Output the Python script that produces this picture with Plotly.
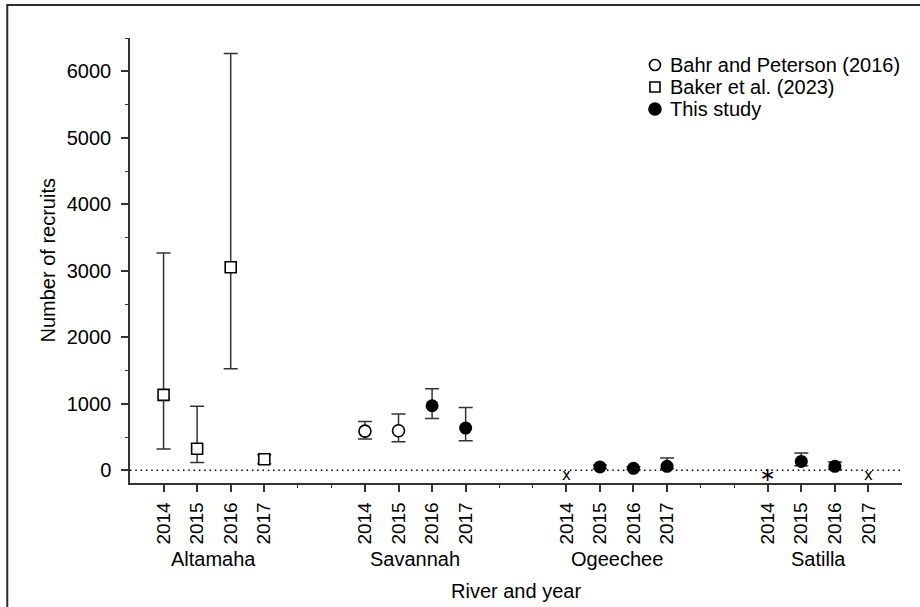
import plotly.graph_objects as go

rivers = ["Altamaha", "Savannah", "Ogeechee", "Satilla"]
years = ["2014", "2015", "2016", "2017"]

# Bahr and Peterson (2016)
bahr_river = ["Savannah", "Savannah"]
bahr_year = ["2014", "2015"]
bahr_val = [590, 595]
bahr_lo = [470, 431]
bahr_hi = [736, 847]

# Baker et al. (2023)
baker_river = ["Altamaha", "Altamaha", "Altamaha", "Altamaha"]
baker_year = ["2014", "2015", "2016", "2017"]
baker_val = [1135, 326, 3054, 168]
baker_lo = [321, 120, 1527, 100]
baker_hi = [3268, 965, 6267, 236]

# This study
this_river = ["Savannah", "Savannah", "Ogeechee", "Ogeechee", "Ogeechee", "Satilla", "Satilla"]
this_year = ["2016", "2017", "2015", "2016", "2017", "2015", "2016"]
this_val = [971, 636, 51, 30, 60, 135, 60]
this_lo = [781, 446, 25, 12, 25, 70, 15]
this_hi = [1227, 946, 80, 55, 186, 261, 126]

# Not estimated (symbols drawn just below zero)
na_river = ["Ogeechee", "Satilla", "Satilla"]
na_year = ["2014", "2014", "2017"]
na_symbol = ["x", "\u2217", "x"]
na_level = -90

series_names = ["Bahr and Peterson (2016)", "Baker et al. (2023)", "This study"]

GROUP = len(years) + 2


def pos(r, y):
    return 1 + GROUP * rivers.index(r) + years.index(y)


def xs(rl, yl):
    return [pos(r, y) for r, y in zip(rl, yl)]


def err(v, lo, hi):
    return dict(type="data", symmetric=False,
                array=[h - a for a, h in zip(v, hi)],
                arrayminus=[a - l for a, l in zip(v, lo)],
                color="#333333", thickness=1.5, width=7)


FONT = "Liberation Sans, Arial, Helvetica, sans-serif"

fig = go.Figure()

fig.add_trace(go.Scatter(
    x=xs(bahr_river, bahr_year), y=bahr_val, mode="markers",
    name=series_names[0],
    marker=dict(symbol="circle", size=12, color="white",
                line=dict(color="black", width=1.6)),
    error_y=err(bahr_val, bahr_lo, bahr_hi)))

fig.add_trace(go.Scatter(
    x=xs(baker_river, baker_year), y=baker_val, mode="markers",
    name=series_names[1],
    marker=dict(symbol="square", size=11, color="white",
                line=dict(color="black", width=1.6)),
    error_y=err(baker_val, baker_lo, baker_hi)))

fig.add_trace(go.Scatter(
    x=xs(this_river, this_year), y=this_val, mode="markers",
    name=series_names[2],
    marker=dict(symbol="circle", size=13, color="black",
                line=dict(color="black", width=0)),
    error_y=err(this_val, this_lo, this_hi)))

fig.add_trace(go.Scatter(
    x=xs(na_river, na_year), y=[na_level] * len(na_river), mode="text",
    text=na_symbol,
    textfont=dict(family="DejaVu Sans, Liberation Sans, sans-serif",
                  size=[15, 19, 15], color="black"),
    showlegend=False, hoverinfo="skip"))

n_pos = GROUP * len(rivers) - 1  # 23
major_vals = [pos(r, y) for r in rivers for y in years]
major_text = [y for r in rivers for y in years]
minor_vals = [v for v in range(1, n_pos) if v not in major_vals]

# zero reference line
fig.add_shape(type="line", xref="x", yref="y", x0=0, x1=n_pos, y0=0, y1=0,
              line=dict(color="black", width=1.5, dash="1.5px,3.8px"), layer="below")

# outer frame
fig.add_shape(type="rect", xref="paper", yref="paper",
              x0=-0.159, x1=1.3, y0=-0.6, y1=1.0741,
              line=dict(color="#2a2a2a", width=2), layer="below")

# manual legend
leg_mx = 0.680
leg_tx = 0.697
leg_y = [0.9393, 0.8899, 0.8405]
leg_sym = [("circle", "white", 11), ("rect", "white", 10), ("circle", "black", 12)]
for name, ly, (kind, fill, s) in zip(series_names, leg_y, leg_sym):
    h = s / 2
    fig.add_shape(type=kind, xref="paper", yref="paper",
                  xsizemode="pixel", ysizemode="pixel",
                  xanchor=leg_mx, yanchor=ly, x0=-h, x1=h, y0=-h, y1=h,
                  fillcolor=fill, line=dict(color="black", width=1.6))
    fig.add_annotation(x=leg_tx, xref="paper", y=ly, yref="paper",
                       xanchor="left", yanchor="middle", text=name,
                       showarrow=False,
                       font=dict(family=FONT, size=20, color="black"))

for r in rivers:
    fig.add_annotation(x=pos(r, years[0]) + (len(years) - 1) / 2, xref="x",
                       y=-0.171, yref="paper", yanchor="middle", xanchor="center",
                       text=r, showarrow=False,
                       font=dict(family=FONT, size=20, color="black"))

fig.add_annotation(x=0.5, xref="paper", y=-0.2437, yref="paper",
                   yanchor="middle", xanchor="center",
                   text="River and year", showarrow=False,
                   font=dict(family=FONT, size=20, color="black"))

fig.add_annotation(x=-0.1075, xref="paper", y=0.5, yref="paper",
                   xanchor="center", yanchor="middle",
                   text="Number of recruits", showarrow=False, textangle=-90,
                   font=dict(family=FONT, size=20, color="black"))

fig.update_layout(
    width=920, height=607,
    margin=dict(l=130, r=18, t=38, b=124),
    paper_bgcolor="white", plot_bgcolor="white",
    font=dict(family=FONT, size=20, color="black"),
    showlegend=False,
)

fig.update_xaxes(
    range=[0, n_pos], showgrid=False, zeroline=False,
    showline=True, linecolor="#333333", linewidth=1.5,
    tickmode="array", tickvals=major_vals, ticktext=major_text,
    ticks="outside", ticklen=7, tickwidth=1.5, tickcolor="#333333",
    tickangle=-90, ticklabelstandoff=3,
    tickfont=dict(family=FONT, size=19, color="black"),
    minor=dict(tickvals=minor_vals, ticks="outside", ticklen=3,
               tickwidth=1.2, tickcolor="#333333"),
)

fig.update_yaxes(
    range=[-190, 6500], showgrid=False, zeroline=False,
    showline=True, linecolor="#333333", linewidth=1.5,
    tickmode="array", tickvals=[0, 1000, 2000, 3000, 4000, 5000, 6000],
    ticks="outside", ticklen=7, tickwidth=1.5, tickcolor="#333333",
    ticklabelstandoff=6,
    tickfont=dict(family=FONT, size=20, color="black"),
    minor=dict(tickvals=[500, 1500, 2500, 3500, 4500, 5500, 6500 - 0.001],
               ticks="outside", ticklen=3, tickwidth=1.2, tickcolor="#333333"),
)

fig.write_html("out.html")
